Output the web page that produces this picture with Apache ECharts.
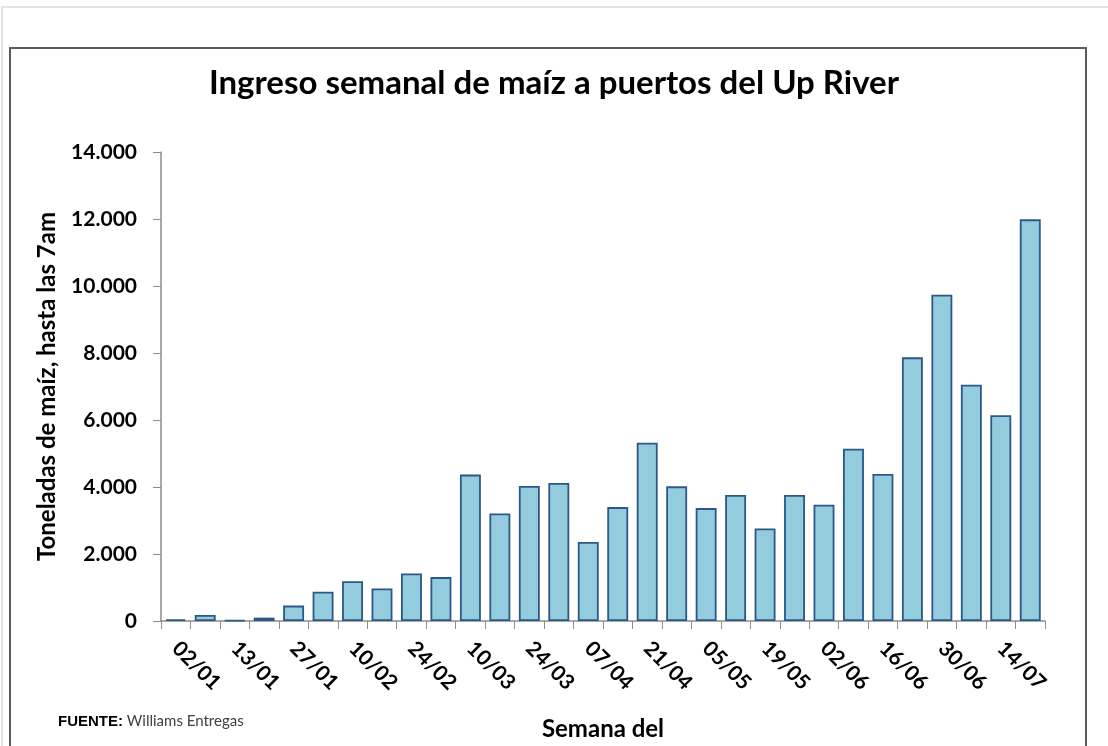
<!DOCTYPE html>
<html>
<head>
<meta charset="utf-8">
<script src="https://cdn.jsdelivr.net/npm/echarts@6/dist/echarts.min.js"></script>
<style>
  html, body { margin: 0; padding: 0; background: #fff; }
  #chart { width: 1108px; height: 746px; }
</style>
</head>
<body>
<div id="chart"></div>
<script>
// semanas (una barra por semana, se rotula una de cada dos)
var semanas = ["02/01", "06/01", "13/01", "20/01", "27/01", "03/02", "10/02", "17/02", "24/02", "03/03",
  "10/03", "17/03", "24/03", "31/03", "07/04", "14/04", "21/04", "28/04", "05/05", "12/05",
  "19/05", "26/05", "02/06", "09/06", "16/06", "23/06", "30/06", "07/07", "14/07", "21/07"];
// toneladas de maíz ingresadas
var toneladas = [50, 180, 25, 100, 460, 875, 1190, 970, 1420, 1310,
  4370, 3210, 4030, 4120, 2360, 3400, 5320, 4020, 3370, 3760,
  2760, 3760, 3470, 5140, 4390, 7870, 9740, 7050, 6140, 11990];
var yMin = 0, yMax = 14000, yPaso = 2000;

var fuente = "Lato, 'Open Sans', sans-serif";

function miles(v) {
  return String(v).replace(/\B(?=(\d{3})+(?!\d))/g, ".");
}

var myChart = echarts.init(document.getElementById("chart"));
var opts = {
  backgroundColor: "#fff",
  textStyle: { fontFamily: fuente },
  title: {
    text: "Ingreso semanal de maíz a puertos del Up River",
    left: "center",
    top: 62,
    textStyle: { fontSize: 33, fontWeight: "bold", color: "#000", fontFamily: fuente }
  },
  grid: { left: 161, right: 63, top: 152, bottom: 123 },
  xAxis: {
    type: "category",
    data: semanas,
    name: "Semana del",
    nameLocation: "middle",
    nameGap: 96,
    nameTextStyle: { fontSize: 24, fontWeight: "bold", color: "#000" },
    axisLine: { lineStyle: { color: "#8c8c8c", width: 1.5 } },
    axisTick: { show: true, interval: 0, length: 8, lineStyle: { color: "#8c8c8c" } },
    axisLabel: {
      interval: 1,
      rotate: -45,
      margin: 24,
      fontSize: 21,
      fontWeight: "bold",
      color: "#000"
    }
  },
  yAxis: {
    type: "value",
    min: yMin,
    max: yMax,
    interval: yPaso,
    name: "Toneladas de maíz, hasta las 7am",
    nameLocation: "middle",
    nameGap: 102,
    nameTextStyle: { fontSize: 24, fontWeight: "bold", color: "#000" },
    splitLine: { show: false },
    axisLine: { show: true, lineStyle: { color: "#8c8c8c", width: 1.5 } },
    axisTick: { show: true, length: 8, lineStyle: { color: "#8c8c8c" } },
    axisLabel: {
      margin: 24,
      fontSize: 21,
      fontWeight: "bold",
      color: "#000",
      formatter: miles
    }
  },
  series: [
    {
      type: "bar",
      data: toneladas,
      barCategoryGap: "29%",
      itemStyle: { color: "#93cddd", borderColor: "#2c5788", borderWidth: 1.8 }
    }
  ],
  graphic: [
    {
      type: "rect",
      shape: { x: 2, y: 7, width: 1110, height: 760 },
      style: { fill: "none", stroke: "#dcdcdc", lineWidth: 1.5 },
      silent: true
    },
    {
      type: "rect",
      shape: { x: 10, y: 48, width: 1076, height: 720 },
      style: { fill: "none", stroke: "#5a5a5a", lineWidth: 2 },
      silent: true
    },
    {
      type: "text",
      left: 58,
      top: 714,
      style: {
        text: "{b|FUENTE:} Williams Entregas",
        font: "15px " + fuente,
        fill: "#404040",
        rich: { b: { fontWeight: "bold", fill: "#000", fontSize: 15 } }
      }
    }
  ]
};
myChart.setOption(opts);
</script>
</body>
</html>
